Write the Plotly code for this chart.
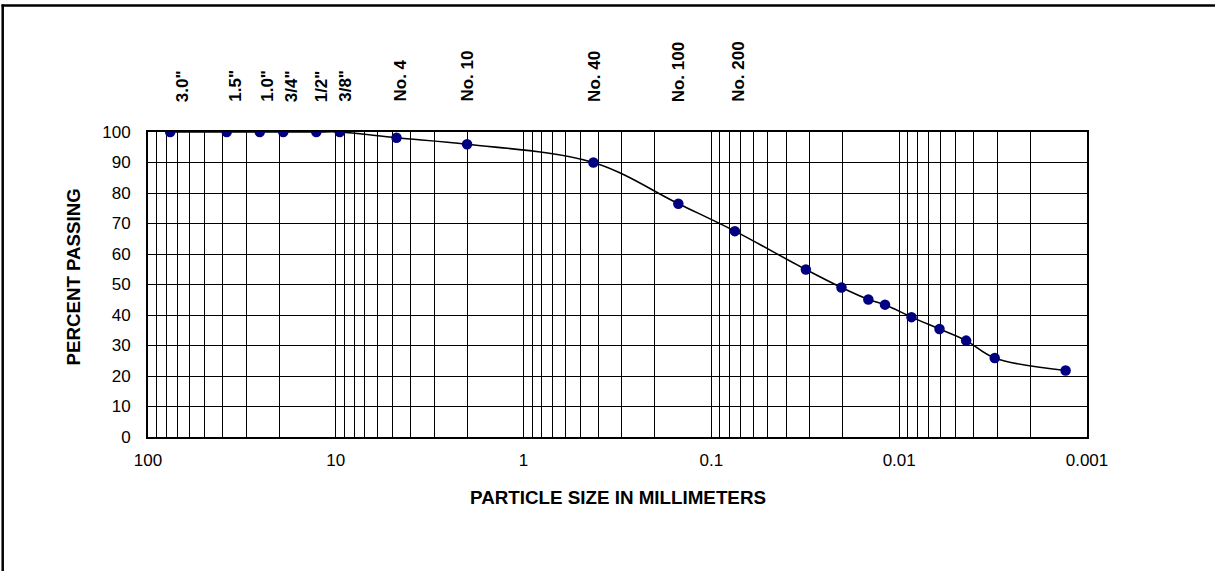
import math
import plotly.graph_objects as go

# Sieve designations and openings (mm)
sieve_labels = ['3.0"', '1.5"', '1.0"', '3/4"', '1/2"', '3/8"', 'No. 4', 'No. 10', 'No. 40', 'No. 100', 'No. 200']
sieve_sizes = [76.2, 38.1, 25.4, 19.05, 12.7, 9.525, 4.75, 2.0, 0.425, 0.15, 0.075]

# Grain size distribution data (sieve + hydrometer)
particle_size = [76.2, 38.1, 25.4, 19.05, 12.7, 9.525, 4.75, 2.0, 0.425, 0.15, 0.075,
                 0.0314, 0.0203, 0.0146, 0.0119, 0.0086, 0.0061, 0.0044, 0.0031, 0.0013]
percent_passing = [100, 100, 100, 100, 100, 100, 98.1, 96.0, 90.0, 76.5, 67.5,
                   54.9, 49.0, 45.1, 43.4, 39.3, 35.4, 31.6, 25.9, 21.8]

x_tickvals = [100, 10, 1, 0.1, 0.01, 0.001]
x_ticktext = ["100", "10", "1", "0.1", "0.01", "0.001"]

# small horizontal nudges (px) of the sieve captions, as placed in the original
label_nudge = [12, 8, 7, 8, 5, 5, 3, 0, 1, 0, 3]

FONT = "Arial, Liberation Sans, sans-serif"

fig = go.Figure()
fig.add_trace(go.Scatter(
    x=particle_size, y=percent_passing, mode="lines+markers",
    line=dict(color="black", width=1.6, shape="spline", smoothing=1.0),
    marker=dict(color="#000080", size=10.5),
    showlegend=False, hoverinfo="x+y",
))

W, H = 1215, 571
L, R, T, B = 148, 128, 132, 134
pw, ph = W - L - R, H - T - B

def px_to_paper_x(px):
    return (px - L) / pw

def px_to_paper_y(py):
    return (H - B - py) / ph

annotations = []
for lab, s, dx in zip(sieve_labels, sieve_sizes, label_nudge):
    annotations.append(dict(
        x=math.log10(s), xref="x", y=1, yref="paper",
        text="<b>" + lab + "</b>", showarrow=False, textangle=-90,
        xanchor="center", yanchor="bottom", yshift=28, xshift=dx,
        font=dict(family=FONT, size=17, color="black"),
    ))

annotations.append(dict(
    x=0.5, xref="paper", y=px_to_paper_y(497), yref="paper",
    text="<b>PARTICLE SIZE IN MILLIMETERS</b>", showarrow=False,
    xanchor="center", yanchor="middle",
    font=dict(family=FONT, size=18.8, color="black"),
))
annotations.append(dict(
    x=px_to_paper_x(72.5), xref="paper", y=px_to_paper_y(277), yref="paper",
    text="<b>PERCENT PASSING</b>", showarrow=False, textangle=-90,
    xanchor="center", yanchor="middle",
    font=dict(family=FONT, size=18.7, color="black"),
))

shapes = [
    dict(type="line", xref="paper", yref="paper",
         x0=px_to_paper_x(1.5), x1=px_to_paper_x(1216), y0=px_to_paper_y(5.5), y1=px_to_paper_y(5.5),
         line=dict(color="black", width=2.5)),
    dict(type="line", xref="paper", yref="paper",
         x0=px_to_paper_x(2.7), x1=px_to_paper_x(2.7), y0=px_to_paper_y(4.5), y1=px_to_paper_y(572),
         line=dict(color="black", width=2.5)),
]

fig.update_layout(
    width=W, height=H,
    margin=dict(l=L, r=R, t=T, b=B, autoexpand=False),
    paper_bgcolor="white", plot_bgcolor="white",
    font=dict(family=FONT, size=17, color="black"),
    annotations=annotations, shapes=shapes,
)
fig.update_xaxes(
    type="log", range=[2, -3],
    tickmode="array", tickvals=x_tickvals, ticktext=x_ticktext,
    showgrid=True, gridcolor="black", gridwidth=1.3,
    minor=dict(dtick="D1", showgrid=True, gridcolor="black", gridwidth=1.3, ticks=""),
    showline=True, linecolor="black", linewidth=2, mirror=True,
    ticks="", ticklabelstandoff=7, zeroline=False,
    tickfont=dict(family=FONT, size=17, color="black"),
)
fig.update_yaxes(
    range=[0, 100], dtick=10, tick0=0,
    showgrid=True, gridcolor="black", gridwidth=1.3,
    showline=True, linecolor="black", linewidth=2, mirror=True,
    ticks="", ticklabelstandoff=12, zeroline=False,
    tickfont=dict(family=FONT, size=17, color="black"),
)

fig.write_html(
    "out.html",
    config={"displayModeBar": False},
    post_script="document.body.style.margin='0';document.body.style.padding='0';",
)
